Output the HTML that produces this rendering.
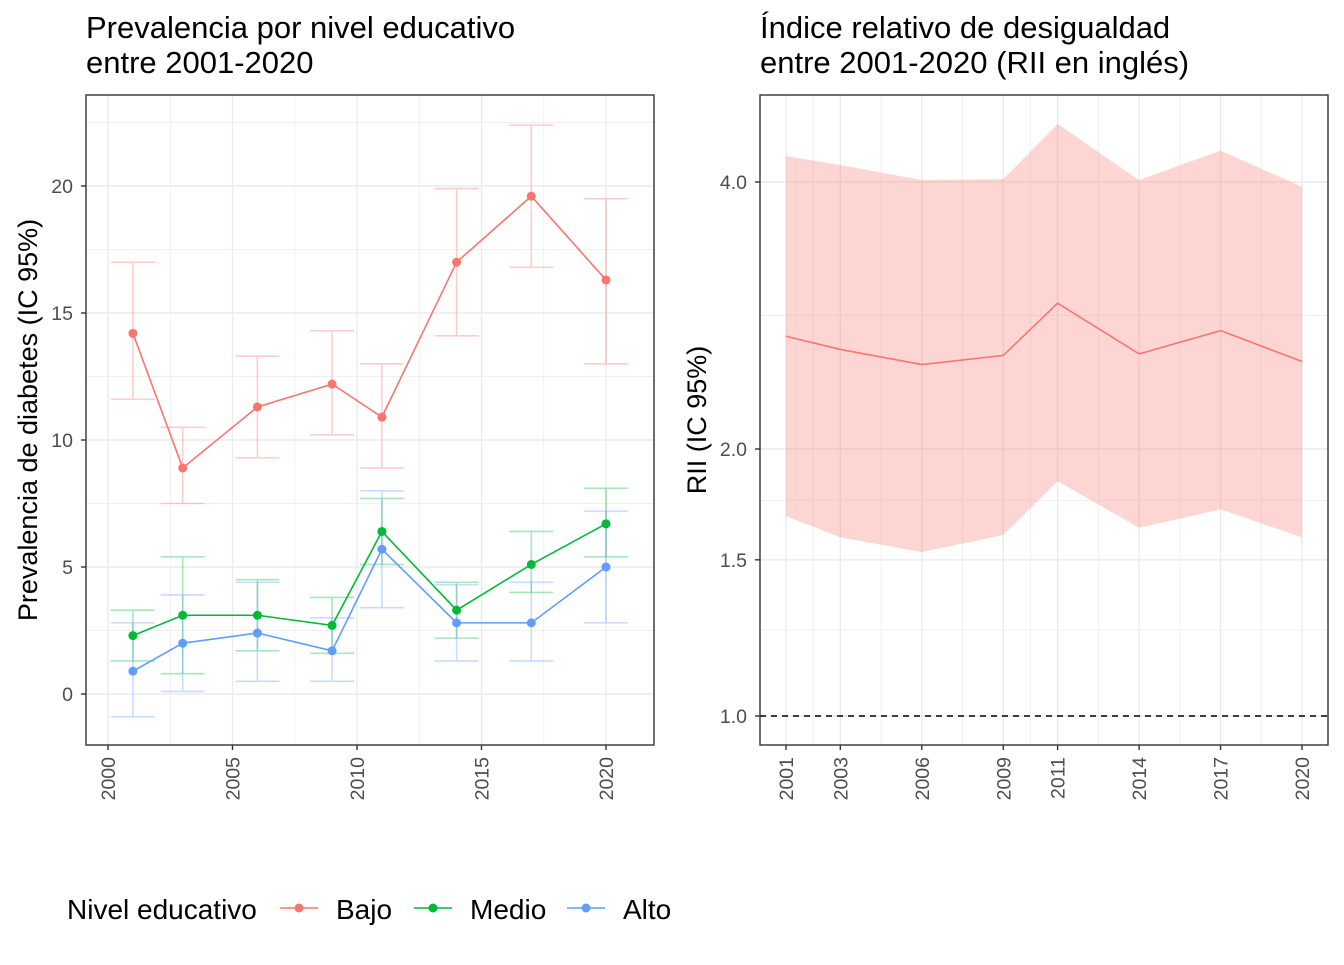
<!DOCTYPE html>
<html><head><meta charset="utf-8"><style>
body{margin:0;background:#fff;font-family:"Liberation Sans",Arial,sans-serif;}
svg text{font-family:"Liberation Sans",Arial,sans-serif;}
</style></head><body>
<svg id="s" width="1344" height="960" xmlns="http://www.w3.org/2000/svg">
<rect width="1344" height="960" fill="#fff"/>
<text x="86" y="38" font-size="31" fill="#000">Prevalencia por nivel educativo</text>
<text x="86" y="73" font-size="31" fill="#000">entre 2001-2020</text>
<text x="760" y="38" font-size="31" fill="#000">Índice relativo de desigualdad</text>
<text x="760" y="73" font-size="31" fill="#000">entre 2001-2020 (RII en inglés)</text>
<text transform="translate(37,420) rotate(-90)" text-anchor="middle" font-size="27">Prevalencia de diabetes (IC 95%)</text>
<text transform="translate(706,420) rotate(-90)" text-anchor="middle" font-size="27">RII (IC 95%)</text>
<g id="L"></g><g id="R"></g><g id="leg"></g>
</svg>
<script>
const years=[2001,2003,2006,2009,2011,2014,2017,2020];
const bajo=[14.2,8.9,11.3,12.2,10.9,17.0,19.6,16.3];
const bajoLo=[11.6,7.5,9.3,10.2,8.9,14.1,16.8,13.0];
const bajoHi=[17.0,10.5,13.3,14.3,13.0,19.9,22.4,19.5];
const medio=[2.3,3.1,3.1,2.7,6.4,3.3,5.1,6.7];
const medioLo=[1.3,0.8,1.7,1.6,5.1,2.2,4.0,5.4];
const medioHi=[3.3,5.4,4.5,3.8,7.7,4.4,6.4,8.1];
const alto=[0.9,2.0,2.4,1.7,5.7,2.8,2.8,5.0];
const altoLo=[-0.9,0.1,0.5,0.5,3.4,1.3,1.3,2.8];
const altoHi=[2.8,3.9,4.4,3.0,8.0,4.3,4.4,7.2];
const rii=[2.68,2.59,2.49,2.55,2.92,2.56,2.72,2.51];
const riiLo=[1.68,1.59,1.53,1.60,1.84,1.63,1.71,1.59];
const riiHi=[4.28,4.18,4.02,4.03,4.65,4.02,4.34,3.95];
const leftXTicks=[2000,2005,2010,2015,2020];
const leftYTicks=[0,5,10,15,20];
const rightYTicks=[1.0,1.5,2.0,4.0];
const rightYLabels=["1.0","1.5","2.0","4.0"];

const NS="http://www.w3.org/2000/svg";
function mk(p,tag,a,txt){const e=document.createElementNS(NS,tag);for(const k in a)e.setAttribute(k,a[k]);if(txt!==undefined)e.textContent=txt;p.appendChild(e);return e;}
const L=document.getElementById('L'),R=document.getElementById('R'),G=document.getElementById('leg');
const TS=19.5;
const lx=v=>108+(v-2000)*24.9, ly=v=>694-v*25.4;
const LX0=86,LX1=654,TOP=95,BOT=745;
for(let v=-2.5;v<=25;v+=2.5){const y=ly(v);if(y<TOP||y>BOT)continue;const major=v%5===0;
 const g=mk(L,'line',{x1:LX0,x2:LX1,y1:y,y2:y,stroke:'#ebebeb','stroke-width':major?1.4:0.7});
 }
for(let v=1997.5;v<=2025;v+=2.5){const x=lx(v);if(x<LX0||x>LX1)continue;const major=v%5===0;
 const g=mk(L,'line',{x1:x,x2:x,y1:TOP,y2:BOT,stroke:'#ebebeb','stroke-width':major?1.4:0.7});
 }
const series=[[bajo,bajoLo,bajoHi,'#F8766D','bajo'],[medio,medioLo,medioHi,'#00BA38','medio'],[alto,altoLo,altoHi,'#619CFF','alto']];
series.forEach(([v,lo,hi,c,n])=>{
 years.forEach((yr,i)=>{const x=lx(yr);
  const e=mk(L,'path',{d:`M${x-22},${ly(lo[i])}H${x+22}M${x},${ly(lo[i])}V${ly(hi[i])}M${x-22},${ly(hi[i])}H${x+22}`,stroke:c,'stroke-opacity':0.35,'stroke-width':1.6,fill:'none'});
  });
});
series.forEach(([v,lo,hi,c,n])=>{
 const pl=mk(L,'polyline',{points:years.map((yr,i)=>lx(yr)+','+ly(v[i])).join(' '),fill:'none',stroke:c,'stroke-width':1.6});
 
 years.forEach((yr,i)=>{const p=mk(L,'circle',{cx:lx(yr),cy:ly(v[i]),r:4.5,fill:c});
  });
});
const lf=mk(L,'rect',{x:LX0,y:TOP,width:LX1-LX0,height:BOT-TOP,fill:'none',stroke:'#333','stroke-width':1.4});

leftYTicks.forEach(v=>{mk(L,'line',{x1:LX0-5,x2:LX0,y1:ly(v),y2:ly(v),stroke:'#333','stroke-width':1.4});
 const t=mk(L,'text',{x:LX0-13,y:ly(v)+7,'text-anchor':'end','font-size':TS,fill:'#4d4d4d'},String(v));
 });
leftXTicks.forEach(v=>{mk(L,'line',{x1:lx(v),x2:lx(v),y1:BOT,y2:BOT+5,stroke:'#333','stroke-width':1.4});
 const t=mk(L,'text',{transform:`translate(${lx(v)+7},${BOT+12}) rotate(-90)`,'text-anchor':'end','font-size':TS,fill:'#4d4d4d'},String(v));
 });
const rx=v=>786+(v-2001)*27.16, ry=v=>716-Math.log2(v)*267;
const RX0=760,RX1=1328;
const rg=[1.0,1.25,1.5,1.75,2.0,2.83,4.0,5.66];
rg.forEach((v,i)=>{const y=ry(v);if(y<TOP||y>BOT)return;const major=[1,1.5,2,4].includes(v);
 const g=mk(R,'line',{x1:RX0,x2:RX1,y1:y,y2:y,stroke:'#ebebeb','stroke-width':major?1.4:0.7});
 });
years.forEach((yr,i)=>{const g=mk(R,'line',{x1:rx(yr),x2:rx(yr),y1:TOP,y2:BOT,stroke:'#ebebeb','stroke-width':1.4});
 
 if(i<years.length-1){const m=(yr+years[i+1])/2;mk(R,'line',{x1:rx(m),x2:rx(m),y1:TOP,y2:BOT,stroke:'#ebebeb','stroke-width':0.7});}});
const rib=mk(R,'polygon',{points:years.map((yr,i)=>rx(yr)+','+ry(riiHi[i])).concat(years.slice().reverse().map((yr,j)=>{const i=years.length-1-j;return rx(yr)+','+ry(riiLo[i]);})).join(' '),fill:'#F8766D','fill-opacity':0.3});

const rl=mk(R,'polyline',{points:years.map((yr,i)=>rx(yr)+','+ry(rii[i])).join(' '),fill:'none',stroke:'#F8766D','stroke-width':1.6});

const ref=mk(R,'line',{x1:RX0,x2:RX1,y1:ry(1),y2:ry(1),stroke:'#000','stroke-width':1.6,'stroke-dasharray':'6,5'});

const rf=mk(R,'rect',{x:RX0,y:TOP,width:RX1-RX0,height:BOT-TOP,fill:'none',stroke:'#333','stroke-width':1.4});

rightYTicks.forEach((v,i)=>{mk(R,'line',{x1:RX0-5,x2:RX0,y1:ry(v),y2:ry(v),stroke:'#333','stroke-width':1.4});
 const t=mk(R,'text',{x:RX0-13,y:ry(v)+7,'text-anchor':'end','font-size':TS,fill:'#4d4d4d'},rightYLabels[i]);
 });
years.forEach(v=>{mk(R,'line',{x1:rx(v),x2:rx(v),y1:BOT,y2:BOT+5,stroke:'#333','stroke-width':1.4});
 const t=mk(R,'text',{transform:`translate(${rx(v)+7},${BOT+12}) rotate(-90)`,'text-anchor':'end','font-size':TS,fill:'#4d4d4d'},String(v));
 });
const lt=mk(G,'text',{x:67,y:919,'font-size':28},'Nivel educativo');

[['Bajo','#F8766D',280],['Medio','#00BA38',414],['Alto','#619CFF',567]].forEach(([n,c,x])=>{
 const g=mk(G,'g',{});
 mk(g,'line',{x1:x,x2:x+38,y1:908,y2:908,stroke:c,'stroke-width':1.6});
 mk(g,'circle',{cx:x+19,cy:908,r:4.5,fill:c});
 mk(g,'text',{x:x+56,y:919,'font-size':28},n);});
</script>
</body></html>
